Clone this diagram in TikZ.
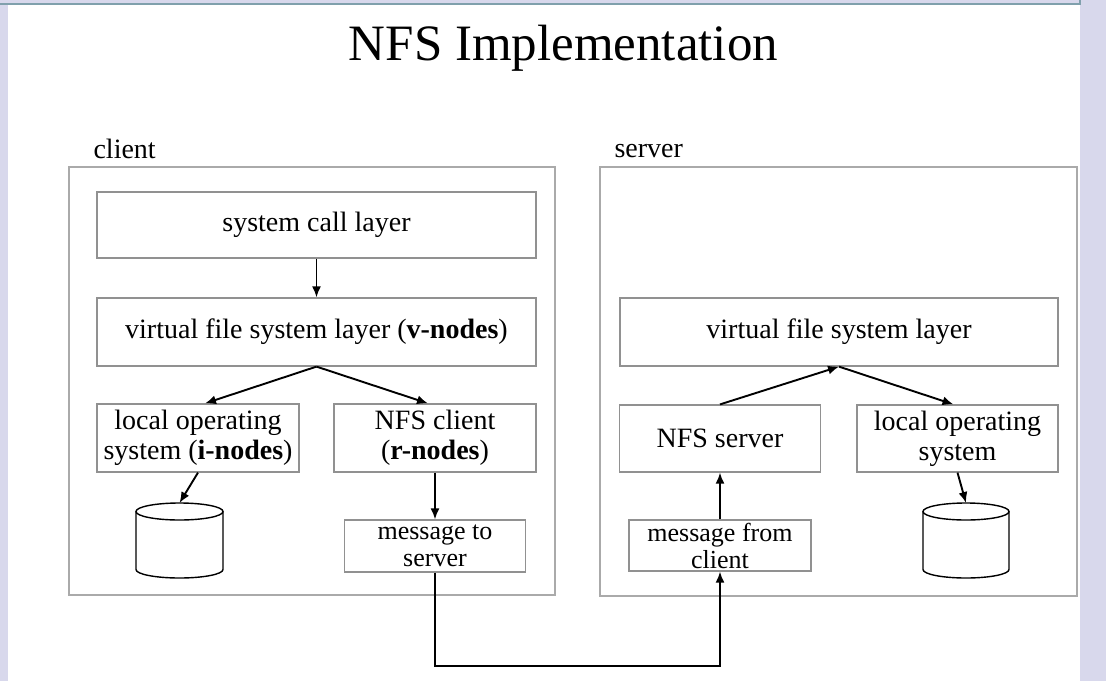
\documentclass[tikz,border=0pt]{standalone}
\usepackage{fontspec}
\setmainfont{Liberation Serif}
\usetikzlibrary{arrows.meta}

\definecolor{slidebg}{RGB}{216,216,236}
\definecolor{slideline}{RGB}{128,160,172}
\definecolor{boxgrey}{RGB}{145,145,145}
\definecolor{framegrey}{RGB}{170,170,170}

\tikzset{
  layer/.style={draw=boxgrey, line width=1.2pt, align=center, inner sep=0pt,
    font=\fontsize{28}{30}\selectfont},
  msgbox/.style={draw=boxgrey, line width=1.2pt, align=center, inner sep=0pt,
    font=\fontsize{26}{27}\selectfont},
  frame/.style={draw=framegrey, line width=1.5pt, inner sep=0pt},
  disk/.style={draw=black, line width=1.4pt},
  arr/.style={-{Latex[length=11pt,width=9pt]}, line width=1.9pt},
}

\begin{document}
\begin{tikzpicture}[x=1pt,y=-1pt]
    \useasboundingbox (0,0) rectangle (1106,681);
    % slide background
    \fill[slidebg] (0,0) rectangle (1106,681);
    \fill[white] (8,5) rectangle (1080,681);
    \draw[slideline, line width=2pt] (0,4) -- (1080,4) -- (1080,0);

    \node[anchor=base, font=\fontsize{51}{54}\selectfont] (title) at (563.5,60) {NFS Implementation};

    % client side
    \node[frame, minimum width=486pt, minimum height=428pt] (clientbox) at (312,381) {};
    \node[anchor=base west, font=\fontsize{28}{30}\selectfont] (clientlbl) at (90,158) {client};
    \node[layer, minimum width=439pt, minimum height=66pt] (syscall) at (316.5,225) {system call layer};
    \node[layer, minimum width=439pt, minimum height=68pt] (cvfs) at (316.5,332) {virtual file system layer (\textbf{v-nodes})};
    \node[layer, minimum width=202pt, minimum height=68pt] (clocal) at (198,438) {local operating\\system (\textbf{i-nodes})};
    \node[layer, minimum width=202pt, minimum height=68pt] (nfscli) at (435,438) {NFS client\\(\textbf{r-nodes})};
    \node[msgbox, minimum width=181pt, minimum height=52pt] (tosrv) at (435,546) {message to\\server};
    % client disk
    \draw[disk] (136,511.5) -- (136,569.5) arc[start angle=180, end angle=0, x radius=43.5, y radius=8.5] -- (223,511.5);
    \draw[disk] (179.5,511.5) ellipse [x radius=43.5, y radius=8.5];
    \coordinate (cdisk) at (179.5,503);

    % server side
    \node[frame, minimum width=477pt, minimum height=429pt] (serverbox) at (838.5,381.5) {};
    \node[anchor=base west, font=\fontsize{28}{30}\selectfont] (serverlbl) at (611,157) {server};
    \node[layer, minimum width=438pt, minimum height=68pt] (svfs) at (839,332) {virtual file system layer};
    \node[layer, minimum width=201pt, minimum height=67pt] (nfssrv) at (720,438.5) {NFS server};
    \node[layer, minimum width=201pt, minimum height=67pt] (slocal) at (957.5,438.5) {local operating\\system};
    \node[msgbox, minimum width=182pt, minimum height=51pt] (frmcli) at (720,545.5) {message from\\client};
    % server disk
    \draw[disk] (923,511.5) -- (923,569.5) arc[start angle=180, end angle=0, x radius=43, y radius=8.5] -- (1009,511.5);
    \draw[disk] (966,511.5) ellipse [x radius=43, y radius=8.5];
    \coordinate (sdisk) at (966,503);

    % arrows
    \draw[arr] (syscall.south) -- (cvfs.north);
    \draw[arr] (cvfs.south) -- ([xshift=7pt]clocal.north);
    \draw[arr] (cvfs.south) -- ([xshift=-7pt]nfscli.north);
    \draw[arr] (clocal.south) -- (cdisk);
    \draw[arr] (nfscli.south) -- (tosrv.north);
    \draw[arr] (nfssrv.north) -- (svfs.south);
    \draw[arr] (svfs.south) -- ([xshift=-4pt]slocal.north);
    \draw[arr] (slocal.south) -- (sdisk);
    \draw[arr] (frmcli.north) -- (nfssrv.south);
    \draw[arr] (tosrv.south) -- ++(0,93) -| (frmcli.south);
\end{tikzpicture}
\end{document}
